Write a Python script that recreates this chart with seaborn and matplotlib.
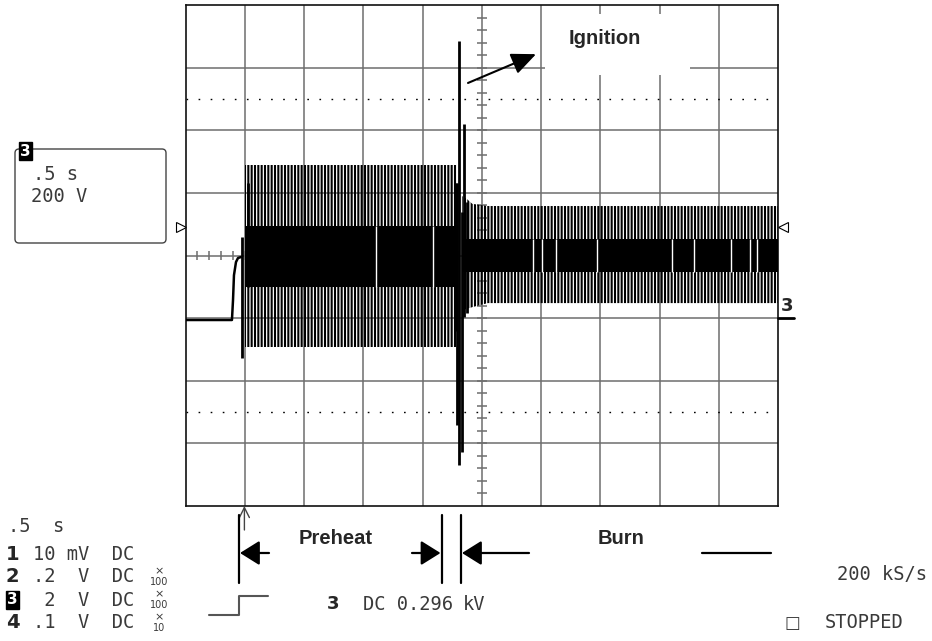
import numpy as np
import seaborn as sns
import matplotlib
import matplotlib.pyplot as plt
from matplotlib.lines import Line2D
from matplotlib.patches import FancyBboxPatch, Rectangle
from matplotlib.transforms import Affine2D

W, H = 932, 641

# channel 3 trace, time in s (0.5 s/div), level in V (200 V/div)
lead_t = [0.0, 0.392, 0.401, 0.409, 0.426, 0.443, 0.468]
lead_v = [-6, -6, 58, 137, 179, 192, 195]

kick_t = [0.481, 0.527]
kick_lo = [-128, 99]
kick_hi = [259, 431]

preheat_t = [0.502, 2.291]
preheat_core_lo = [99, 99]
preheat_core_hi = [294, 294]
preheat_env_lo = [-93, -93]
preheat_env_hi = [489, 489]
preheat_gaps = [1.608, 2.089]

ignition_t = [2.283, 2.291, 2.308, 2.333, 2.350, 2.376]
ignition_lo = [-40, -342, -470, -428, 3, 16]
ignition_hi = [431, 431, 885, 339, 620, 370]

burn_t = [2.333, 2.376, 2.420, 2.550, 5.0]
burn_core_lo = [147, 147, 147, 147, 147]
burn_core_hi = [252, 252, 252, 252, 252]
burn_env_lo = [25, 30, 35, 48, 48]
burn_env_hi = [390, 380, 365, 358, 358]
burn_gaps = [2.932, 3.008, 3.127, 3.473, 4.105, 4.291, 4.603, 4.764, 4.823]

trig_level = 291

# scope readout text
channels = ['1', '2', '3', '4']
settings = ['10 mV  DC', '.2  V  DC', ' 2  V  DC', '.1  V  DC']
probes = ['', '100', '100', '10']

sns.set_style('white')
plt.rcParams['hatch.linewidth'] = 1.5
MONO = 'DejaVu Sans Mono'
BOLD = 'Liberation Sans'
TXT = '#3a3a3a'

fig = plt.figure(figsize=(W / 100, H / 100), dpi=100)
px = Affine2D().scale(1 / W, -1 / H).translate(0, 1) + fig.transFigure

ax = fig.add_axes([185.5 / W, 1 - 506 / H, 592.5 / W, 501 / H])
ax.set_xlim(0, 5)
ax.set_ylim(-600, 1000)
ax.set_xticks([])
ax.set_yticks([])
for s in ax.spines.values():
    s.set_color('#111111')
    s.set_linewidth(1.2)

grid_c = '#6e6e6e'
for t in np.arange(0.5, 5, 0.5):
    ax.axvline(t, color=grid_c, lw=1.1, zorder=0.5)
for v in range(-400, 1000, 200):
    ax.axhline(v, color=grid_c, lw=1.1, zorder=0.5)
for v in (700, -300):
    ax.axhline(v, color='black', lw=1.0, ls=(0, (1.2, 7.5)), zorder=0.6)
ax.vlines(np.arange(0.1, 5, 0.1), 187, 213, color=grid_c, lw=1.1, zorder=0.6)
ax.hlines(np.arange(-560, 1000, 40), 2.456, 2.544, color=grid_c, lw=1.1, zorder=0.6)

# label box blanking the grid
ax.add_patch(Rectangle((3.034, 776), 1.223, 196, facecolor='white', lw=0, zorder=1.5))

# trace
ax.fill_between(preheat_t, preheat_env_lo, preheat_env_hi, facecolor='none',
                edgecolor='black', hatch='|||||', lw=0, zorder=2)
ax.fill_between(burn_t, burn_env_lo, burn_env_hi, facecolor='none',
                edgecolor='black', hatch='|||||', lw=0, zorder=2)
ax.fill_between(preheat_t, preheat_core_lo, preheat_core_hi, color='black', lw=0, zorder=3)
ax.fill_between(burn_t, burn_core_lo, burn_core_hi, color='black', lw=0, zorder=3)
ax.vlines(preheat_gaps, np.interp(preheat_gaps, preheat_t, preheat_core_lo),
          np.interp(preheat_gaps, preheat_t, preheat_core_hi), color='white', lw=1, zorder=4)
ax.vlines(burn_gaps, np.interp(burn_gaps, burn_t, burn_core_lo),
          np.interp(burn_gaps, burn_t, burn_core_hi), color='white', lw=1, zorder=4)
ax.vlines(ignition_t, ignition_lo, ignition_hi, color='black', lw=2.0, zorder=5)
ax.vlines(kick_t, kick_lo, kick_hi, color='black', lw=2.0, zorder=5)
sns.lineplot(x=lead_t, y=lead_v, ax=ax, color='black', lw=1.8, sort=False,
             estimator=None, zorder=5)

# trigger level markers and ground marker
ax.plot([-0.042], [trig_level], marker='>', ms=7, mfc='white', mec='black',
        mew=0.8, clip_on=False)
ax.plot([5.046], [trig_level], marker='<', ms=7, mfc='white', mec='black',
        mew=0.8, clip_on=False)
fig.text(787, 306, '3', transform=px, ha='center', va='center', fontsize=13,
         fontweight='bold', family='DejaVu Sans')
fig.add_artist(Line2D([778, 794], [318, 318], transform=px, color='black', lw=2))

# ignition label
fig.text(604.5, 39, 'Ignition', transform=px, ha='center', va='center',
         fontsize=14.5, fontweight='bold', family=BOLD)
ax.annotate('', xy=(2.958, 843), xytext=(2.384, 751),
            arrowprops=dict(arrowstyle='-|>,head_length=0.5,head_width=0.22',
                            mutation_scale=30, color='black', lw=1.5,
                            shrinkA=0, shrinkB=0))

# left settings box
fig.add_artist(FancyBboxPatch((15, 149), 151, 94, transform=px,
                              boxstyle='round,pad=0,rounding_size=4',
                              facecolor='white', edgecolor='#444444', lw=1.0))
fig.text(25.5, 151, '3', transform=px, ha='center', va='center', fontsize=11,
         fontweight='bold', color='white', family='DejaVu Sans',
         bbox=dict(boxstyle='square,pad=0.08', fc='black', ec='black'))
fig.text(33, 174, '.5 s', transform=px, va='center', fontsize=13.5, family=MONO, color=TXT)
fig.text(31, 196, '200 V', transform=px, va='center', fontsize=13.5, family=MONO, color=TXT)

# bottom-left readout
fig.text(8, 526, '.5  s', transform=px, va='center', fontsize=13.5, family=MONO, color=TXT)
rows_y = [555, 577, 600, 623]
for ch, st, pr, y in zip(channels, settings, probes, rows_y):
    if ch == '3':
        fig.text(12.5, y, ch, transform=px, ha='center', va='center', fontsize=11,
                 fontweight='bold', color='white', family='DejaVu Sans',
                 bbox=dict(boxstyle='square,pad=0.08', fc='black', ec='black'))
    else:
        fig.text(12.5, y, ch, transform=px, ha='center', va='center', fontsize=14,
                 fontweight='bold', family='DejaVu Sans')
    fig.text(33, y, st, transform=px, va='center', fontsize=13.5, family=MONO, color=TXT)
    if pr:
        fig.text(159, y - 6, '\u00d7', transform=px, ha='center', va='center',
                 fontsize=8, family='DejaVu Sans', color=TXT)
        fig.text(159, y + 5, pr, transform=px, ha='center', va='center',
                 fontsize=7, family='DejaVu Sans', color=TXT)

# phase annotation under the graticule
for x in (239, 441.5, 461):
    fig.add_artist(Line2D([x, x], [515, 583], transform=px, color='black', lw=1.6))
head = dict(arrowstyle='-|>,head_length=0.4,head_width=0.25', mutation_scale=30,
            color='black', lw=1.6, shrinkA=0, shrinkB=0)
ax.annotate('', xy=(240, 553), xycoords=px, xytext=(269, 553), textcoords=px,
            arrowprops=head, annotation_clip=False)
ax.annotate('', xy=(440.5, 553), xycoords=px, xytext=(412, 553), textcoords=px,
            arrowprops=head, annotation_clip=False)
ax.annotate('', xy=(462, 553), xycoords=px, xytext=(529, 553), textcoords=px,
            arrowprops=head, annotation_clip=False)
fig.add_artist(Line2D([702, 771], [553, 553], transform=px, color='black', lw=1.6))
fig.text(336, 539, 'Preheat', transform=px, ha='center', va='center',
         fontsize=14.5, fontweight='bold', family=BOLD)
fig.text(621, 539, 'Burn', transform=px, ha='center', va='center',
         fontsize=14.5, fontweight='bold', family=BOLD)

# trigger point arrow
ax.annotate('', xy=(244.4, 506), xycoords=px, xytext=(244.4, 530), textcoords=px,
            arrowprops=dict(arrowstyle='->,head_length=0.6,head_width=0.3',
                            mutation_scale=12, color='#444444', lw=1.0,
                            shrinkA=0, shrinkB=0), annotation_clip=False)

# trigger edge icon
fig.add_artist(Line2D([209, 239, 239, 268], [615, 615, 596, 596], transform=px,
                      color='#555555', lw=1.5))

fig.text(333.5, 604, '3', transform=px, ha='center', va='center', fontsize=13,
         fontweight='bold', family='DejaVu Sans')
fig.text(363, 604, 'DC 0.296', transform=px, va='center', fontsize=13.5, family=MONO, color=TXT)
fig.text(463, 604, 'kV', transform=px, va='center', fontsize=13.5, family=MONO, color=TXT)

fig.text(927, 574, '200 kS/s', transform=px, ha='right', va='center', fontsize=13.5,
         family=MONO, color=TXT)
fig.text(792, 623, '\u25a1', transform=px, ha='center', va='center', fontsize=12,
         family='DejaVu Sans', color=TXT)
fig.text(825, 623, 'STOPPED', transform=px, va='center', fontsize=13.5, family=MONO, color=TXT)

fig.savefig('out.png', dpi=100)
